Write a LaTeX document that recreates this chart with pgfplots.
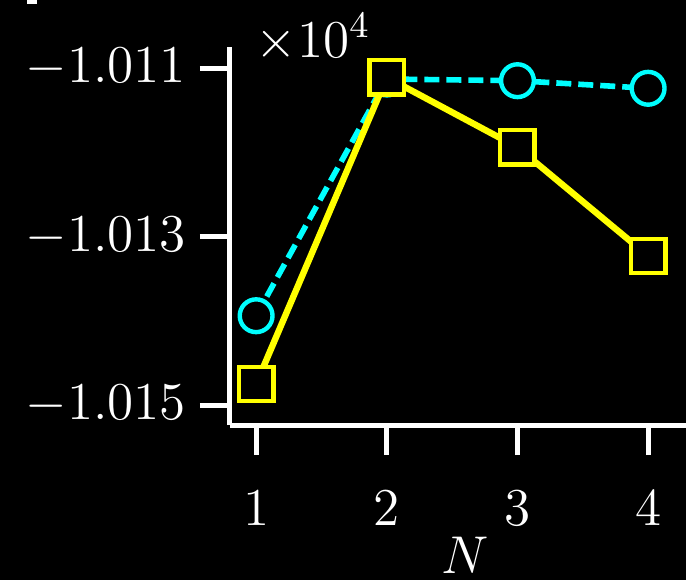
\documentclass[border=0pt]{standalone}
\usepackage{fix-cm}
\usepackage{pgfplots}
\pgfplotsset{compat=1.18}
\definecolor{mycyan}{RGB}{0,255,255}
\definecolor{myyellow}{RGB}{255,255,0}

\begin{document}
\begin{tikzpicture}
  \useasboundingbox (0,0) rectangle (171.5pt,145pt);
  \fill[black] (0,0) rectangle (171.5pt,145pt);
  \clip (0,0) rectangle (171.5pt,145pt);
  \fill[white] (6.75pt,144pt) rectangle (9.25pt,145pt);
  \begin{axis}[
      at={(57.5pt,38.75pt)}, anchor=south west,
      scale only axis,
      width=117.6pt, height=94.5pt,
      xmin=0.8, xmax=4.4,
      ymin=-10152.37, ymax=-10107.5,
      axis lines*=left,
      axis line style={white, line width=1.25pt},
      every tick/.style={white, line width=1.25pt},
      tick align=outside,
      major tick length=7.5pt,
      xtick={1,2,3,4},
      ytick={-10150,-10130,-10110},
      scaled y ticks=base 10:-4,
      ytick scale label code/.code={$\times10^{4}$},
      yticklabel style={/pgf/number format/fixed, /pgf/number format/fixed zerofill,
        /pgf/number format/precision=3},
      xticklabel style={yshift=-5.5pt},
      every y tick scale label/.style={at={(rel axis cs:0,1)}, anchor=base west,
        xshift=6.25pt, yshift=-2.5pt, inner sep=0pt},
      tick label style={white},
      font=\fontsize{13.3}{16}\selectfont,
      xlabel={$N$},
      xlabel style={white, yshift=4pt},
      clip=false,
    ]
    \addplot[mycyan, dash pattern=on 3.75pt off 1.75pt, line width=1.4pt, mark=*, mark size=4.1pt,
      mark options={solid, fill=black, draw=mycyan, line width=1.1pt}]
      coordinates {(1,-10139.4) (2,-10111.3) (3,-10111.5) (4,-10112.4)};
    \addplot[myyellow, line width=1.6pt, mark=square*, mark size=4.3pt,
      mark options={solid, fill=black, draw=myyellow, line width=1.1pt}]
      coordinates {(1,-10147.5) (2,-10111.1) (3,-10119.4) (4,-10132.3)};
  \end{axis}
\end{tikzpicture}
\end{document}
